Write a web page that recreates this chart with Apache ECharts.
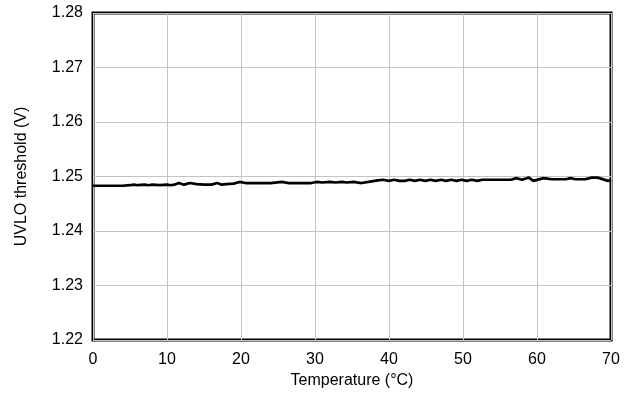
<!DOCTYPE html>
<html>
<head>
<meta charset="utf-8">
<script src="https://cdn.jsdelivr.net/npm/echarts@6/dist/echarts.min.js"></script>
<style>
html,body{margin:0;padding:0;background:#fff;}
#chart{width:629px;height:394px;}
</style>
</head>
<body>
<div id="chart"></div>
<script>
// Temperature (°C)
const temps = [0,1,2,3,4,5,5.5,6,7,7.5,8,9,10,10.5,11,11.6,12.3,13.1,14,15,16,16.8,17.4,18,19,19.8,20.6,22,24,25.5,26.5,28,29.5,30.2,31,32,32.8,33.6,34.3,35.2,36.3,37.2,38.5,39.2,40,40.7,41.4,42.1,42.8,43.5,44.2,44.9,45.6,46.3,47,47.7,48.4,49.1,49.8,50.5,51.2,51.9,52.6,54,56.5,57.2,58,58.9,59.5,60.9,62,63.9,64.5,65.2,66.5,67.4,68.2,69.6,70];
// UVLO threshold (V)
const uvlo = [1.2483,1.2483,1.2483,1.2483,1.2483,1.2484,1.2485,1.2484,1.2485,1.2484,1.2485,1.2484,1.2485,1.2484,1.2485,1.2488,1.2485,1.2488,1.2486,1.2485,1.2485,1.2488,1.2485,1.2486,1.2487,1.2490,1.2488,1.2488,1.2488,1.2490,1.2488,1.2488,1.2488,1.2490,1.2489,1.2490,1.2489,1.2490,1.2489,1.2490,1.2488,1.2490,1.2493,1.2494,1.2492,1.2494,1.2492,1.2492,1.2494,1.2492,1.2494,1.2492,1.2494,1.2492,1.2494,1.2492,1.2494,1.2492,1.2494,1.2492,1.2494,1.2492,1.2494,1.2494,1.2494,1.2497,1.2494,1.2498,1.2492,1.2497,1.2495,1.2495,1.2497,1.2495,1.2495,1.2498,1.2498,1.2492,1.2494];
const xTicks = {min:0, max:70, interval:10};
const yTicks = {min:1.22, max:1.28, interval:0.01};

const chart = echarts.init(document.getElementById('chart'), null, {renderer:'canvas'});
const font = 'Liberation Sans, Arial, sans-serif';
chart.setOption({
  animation:false,
  backgroundColor:'#fff',
  grid:{left:93, right:18, top:13, bottom:51.5, show:true, borderColor:'#000', borderWidth:3, backgroundColor:'transparent'},
  xAxis:{
    type:'value', min:xTicks.min, max:xTicks.max, interval:xTicks.interval,
    name:'Temperature (°C)', nameLocation:'middle', nameGap:33,
    nameTextStyle:{color:'#000', fontSize:16, fontFamily:font},
    axisLine:{show:false}, axisTick:{show:false},
    axisLabel:{color:'#000', fontSize:16, fontFamily:font, margin:12},
    splitLine:{show:true, lineStyle:{color:'#c4c4c4', width:1}}
  },
  yAxis:{
    type:'value', min:yTicks.min, max:yTicks.max, interval:yTicks.interval,
    name:'UVLO threshold (V)', nameLocation:'middle', nameGap:63,
    nameTextStyle:{color:'#000', fontSize:16, fontFamily:font},
    axisLine:{show:false}, axisTick:{show:false},
    axisLabel:{color:'#000', fontSize:16, fontFamily:font, margin:10, formatter:v=>v.toFixed(2)},
    splitLine:{show:true, lineStyle:{color:'#c4c4c4', width:1}}
  },
  series:[{
    type:'line', data:temps.map((t,i)=>[t,uvlo[i]]),
    showSymbol:false, symbol:'none',
    lineStyle:{color:'#000', width:2.7}
  }]
});
</script>
</body>
</html>
